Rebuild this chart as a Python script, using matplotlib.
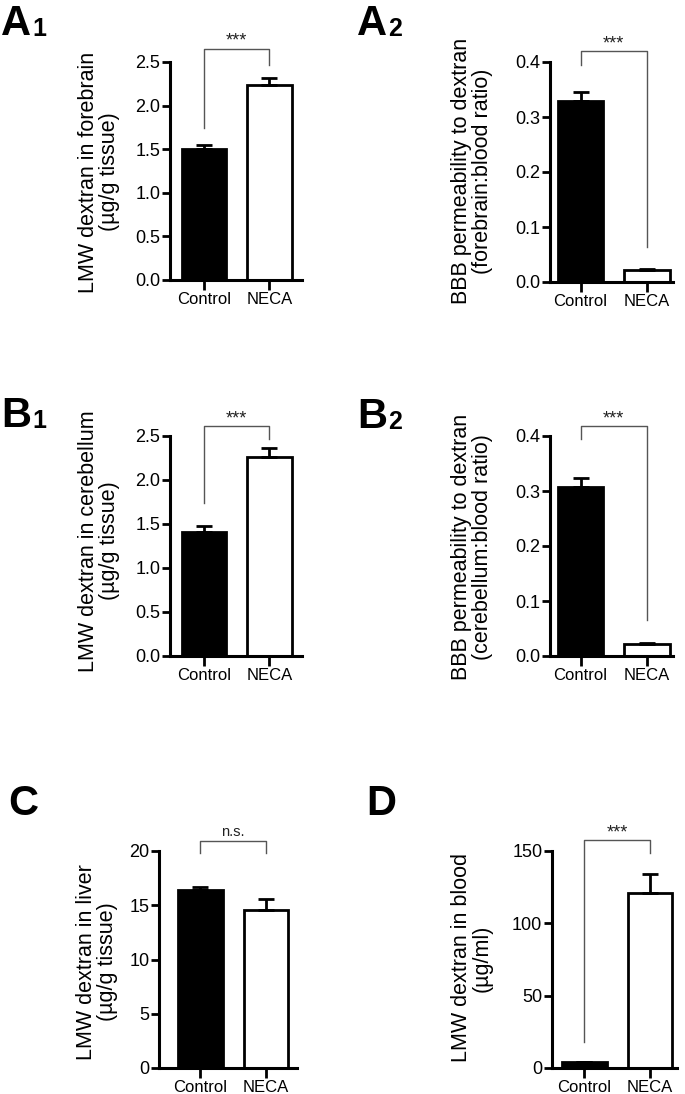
import matplotlib
matplotlib.use('Agg')
import matplotlib.pyplot as plt

plt.rcParams['font.family'] = ['Liberation Sans', 'DejaVu Sans']

groups = ['Control', 'NECA']

# mean and upper SEM per panel
forebrain_mean = [1.50, 2.24]
forebrain_err = [0.05, 0.08]
forebrain_ratio_mean = [0.330, 0.021]
forebrain_ratio_err = [0.015, 0.003]
cerebellum_mean = [1.41, 2.265]
cerebellum_err = [0.07, 0.095]
cerebellum_ratio_mean = [0.307, 0.021]
cerebellum_ratio_err = [0.017, 0.003]
liver_mean = [16.45, 14.56]
liver_err = [0.25, 1.0]
blood_mean = [3.9, 121.2]
blood_err = [0.5, 12.6]

W, H = 685, 1094
fig = plt.figure(figsize=(W / 100, H / 100), dpi=100)


def px(x, y):
    return x / W, 1 - y / H


def panel(rect, xlim, ymax, yticks, ticklabels, means, errs, ylabel, label_xy,
          bracket, sig, letter, sub, letter_xy):
    x0, ytop, x1, y0 = rect
    ax = fig.add_axes([x0 / W, 1 - y0 / H, (x1 - x0) / W, (y0 - ytop) / H])
    ax.bar([0, 1], means, width=0.68, color=['black', 'white'],
           edgecolor='black', linewidth=2, zorder=2)
    ax.errorbar([0, 1], means, yerr=[[0, 0], errs], fmt='none', ecolor='black',
                elinewidth=2, capsize=6, capthick=2, zorder=3)
    ax.set_xlim(*xlim)
    ax.set_ylim(0, ymax)
    ax.set_yticks(yticks)
    ax.set_yticklabels(ticklabels)
    ax.set_xticks([0, 1])
    ax.set_xticklabels(groups)
    for s in ['top', 'right']:
        ax.spines[s].set_visible(False)
    for s in ['left', 'bottom']:
        ax.spines[s].set_linewidth(2.2)
    ax.tick_params(axis='y', length=6, width=2, pad=1, labelsize=13)
    ax.tick_params(axis='x', length=7, width=2, pad=2, labelsize=12)

    top, lb, rb = bracket
    ax.plot([0, 0, 1, 1], [lb, top, top, rb], color='#555555', lw=1.0,
            clip_on=False, zorder=1)
    fs = 13 if sig == '***' else 10.5
    off = 3 if sig == '***' else 5
    ax.annotate(sig, xy=(0.5, top), xytext=(0, off), textcoords='offset pixels',
                ha='center', va='baseline', fontsize=fs, color='#222222',
                annotation_clip=False)

    lx, ly = label_xy
    fig.text(*px(lx, ly), ylabel, rotation=90, ha='center', va='center',
             multialignment='center', fontsize=15.5, linespacing=0.95)

    tx, ty = letter_xy
    t = fig.text(*px(tx, ty), letter, fontsize=30, fontweight='bold',
                 ha='left', va='baseline')
    if sub:
        fig.canvas.draw()
        bb = t.get_window_extent()
        fig.text(bb.x1 / W + 0.002, 1 - (ty + 1) / H, sub, fontsize=18,
                 fontweight='bold', ha='left', va='baseline')
    return ax


panel((170, 62, 302, 280), (-0.52, 1.5), 2.5, [0, 0.5, 1, 1.5, 2, 2.5],
      ['0.0', '0.5', '1.0', '1.5', '2.0', '2.5'],
      forebrain_mean, forebrain_err,
      'LMW dextran in forebrain\n(µg/g tissue)', (99, 172),
      (2.65, 1.74, 2.47), '***', 'A', '1', (1, 35))

panel((550, 62, 673, 282), (-0.46, 1.39), 0.4, [0, 0.1, 0.2, 0.3, 0.4],
      ['0.0', '0.1', '0.2', '0.3', '0.4'],
      forebrain_ratio_mean, forebrain_ratio_err,
      'BBB permeability to dextran\n(forebrain:blood ratio)', (472, 171),
      (0.42, 0.395, 0.064), '***', 'A', '2', (357, 35))

panel((170, 436, 302, 656), (-0.52, 1.5), 2.5, [0, 0.5, 1, 1.5, 2, 2.5],
      ['0.0', '0.5', '1.0', '1.5', '2.0', '2.5'],
      cerebellum_mean, cerebellum_err,
      'LMW dextran in cerebellum\n(µg/g tissue)', (99, 541),
      (2.61, 1.74, 2.47), '***', 'B', '1', (1, 427))

panel((550, 436, 673, 656), (-0.46, 1.39), 0.4, [0, 0.1, 0.2, 0.3, 0.4],
      ['0.0', '0.1', '0.2', '0.3', '0.4'],
      cerebellum_ratio_mean, cerebellum_ratio_err,
      'BBB permeability to dextran\n(cerebellum:blood ratio)', (472, 547),
      (0.418, 0.395, 0.065), '***', 'B', '2', (357, 428))

panel((159, 851, 297, 1068), (-0.63, 1.47), 20, [0, 5, 10, 15, 20],
      ['0', '5', '10', '15', '20'],
      liver_mean, liver_err,
      'LMW dextran in liver\n(µg/g tissue)', (97, 962),
      (20.9, 19.8, 19.8), 'n.s.', 'C', '', (8, 815))

panel((552, 851, 677, 1068), (-0.49, 1.41), 150, [0, 50, 100, 150],
      ['0', '50', '100', '150'],
      blood_mean, blood_err,
      'LMW dextran in blood\n(µg/ml)', (472, 958),
      (157.6, 18, 148.6), '***', 'D', '', (366, 815))

fig.savefig('out.png', dpi=100)
